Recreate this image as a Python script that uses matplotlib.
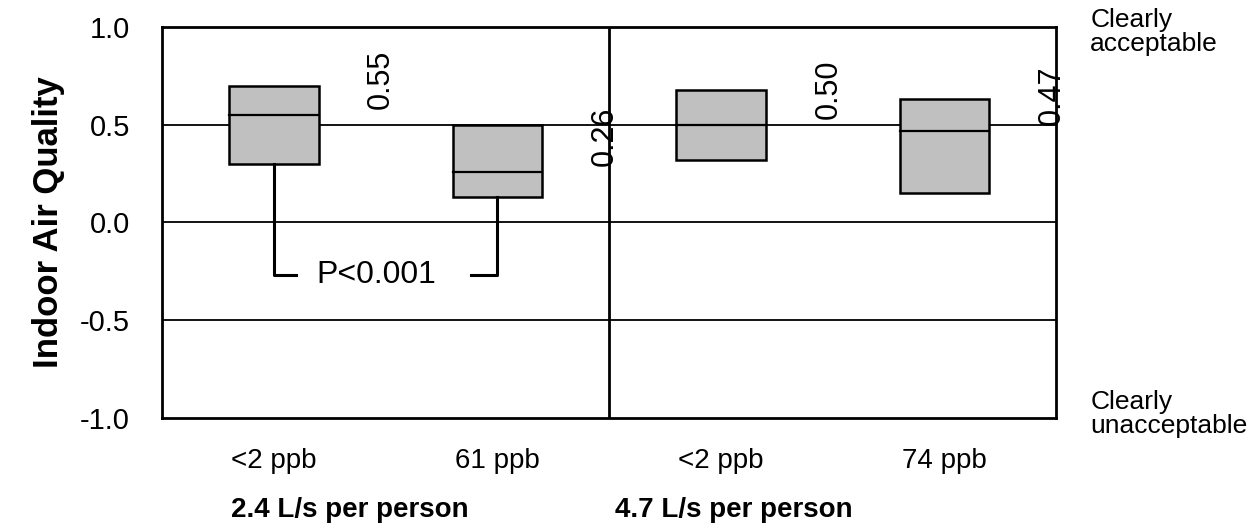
import matplotlib
matplotlib.use("Agg")
import matplotlib.pyplot as plt

plt.rcParams['font.family'] = ['Liberation Sans', 'DejaVu Sans']

# ozone exposure conditions and their quality votes
conditions = ['<2 ppb', '61 ppb', '<2 ppb', '74 ppb']
box_low = [0.30, 0.13, 0.32, 0.15]
box_high = [0.70, 0.50, 0.68, 0.63]
medians = [0.55, 0.26, 0.50, 0.47]
median_labels = ['0.55', '0.26', '0.50', '0.47']
ventilation = ['2.4 L/s per person', '4.7 L/s per person']
bracket_level = -0.27
p_text = 'P<0.001'

fig = plt.figure(figsize=(12.56, 5.29), dpi=100)
ax = fig.add_axes([0.129, 0.210, 0.712, 0.739])

xs = [i + 0.5 for i in range(len(conditions))]
w = 0.4

for y in (0.5, 0.0, -0.5):
    ax.axhline(y, color='black', lw=1.3, zorder=1)
ax.axvline(2, color='black', lw=2, zorder=1)

heights = [h - l for h, l in zip(box_high, box_low)]
ax.bar(xs, heights, bottom=box_low, width=w, color='#c0c0c0',
       edgecolor='black', linewidth=1.8, zorder=2)
for x, m in zip(xs, medians):
    ax.plot([x - w / 2, x + w / 2], [m, m], color='black', lw=1.6, zorder=3)

for x, m, lab in zip(xs, medians, median_labels):
    ax.text(x + 0.48, m + 0.03, lab, rotation=90, ha='center', va='bottom',
            fontsize=22, zorder=4)

# significance bracket between the two low-ventilation conditions
x1, x2 = xs[0], xs[1]
ax.plot([x1, x1, x1 + 0.1], [box_low[0], bracket_level, bracket_level],
        color='black', lw=2.2, zorder=2)
ax.plot([x2 - 0.12, x2, x2], [bracket_level, bracket_level, box_low[1]],
        color='black', lw=2.2, zorder=2)
ax.text((x1 + x2) / 2 - 0.04, bracket_level, p_text, ha='center',
        va='center', fontsize=23)

ax.set_xlim(0, 4)
ax.set_ylim(-1, 1)
ax.set_yticks([1.0, 0.5, 0.0, -0.5, -1.0])
ax.set_yticklabels(['1.0', '0.5', '0.0', '-0.5', '-1.0'], fontsize=21)
ax.set_xticks(xs)
ax.set_xticklabels(conditions, fontsize=20)
ax.tick_params(axis='y', length=0, pad=23)
ax.tick_params(axis='x', length=0, pad=22)
for s in ax.spines.values():
    s.set_linewidth(2)

ax.set_ylabel('Indoor Air Quality', fontsize=25, fontweight='bold')
ax.yaxis.set_label_coords(-0.108, 0.5)

for x0, lab in zip((0.31, 2.027), ventilation):
    ax.text(x0, -1.47, lab, ha='left', va='center', fontsize=20,
            fontweight='bold', clip_on=False)

fig.text(0.868, 0.985, 'Clearly\nacceptable', ha='left', va='top', fontsize=19,
         linespacing=1.0)
fig.text(0.868, 0.262, 'Clearly\nunacceptable', ha='left', va='top', fontsize=19,
         linespacing=1.0)

fig.savefig('out.png', dpi=100)
